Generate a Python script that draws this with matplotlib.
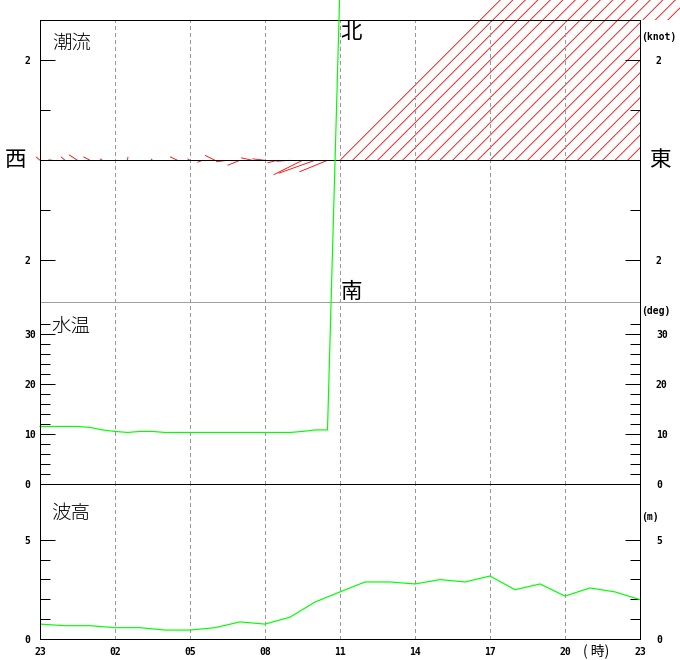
import numpy as np
import matplotlib
matplotlib.use('Agg')
import matplotlib.pyplot as plt
from matplotlib.collections import LineCollection
from matplotlib.path import Path

plt.rcParams['font.family'] = ['Noto Sans CJK JP', 'DejaVu Sans']
plt.rcParams['lines.antialiased'] = False

# time axis: 23時 から 24時間, labels every 3 h
tick_hours = [0, 3, 6, 9, 12, 15, 18, 21, 24]
tick_labels = ['23', '02', '05', '08', '11', '14', '17', '20', '23']

# 潮流 every 30 min: east (u) / north (v) components in knot, 99.9 = 欠測
cur_hours = np.arange(0, 24.5, 0.5)
cur_u = [-0.08, -0.08, -0.08, -0.17, -0.13, -0.05, 0.00, 0.01, 0.00, -0.03,
         0.00, -0.15, -0.05, -0.10, -0.20, -0.23, -0.25, -0.23, -0.25, -0.20,
         -0.27, -0.58, -0.73, -0.56,
         99.9, 99.9, 99.9, 99.9, 99.9, 99.9, 99.9, 99.9, 99.9, 99.9, 99.9, 99.9, 99.9,
         99.9, 99.9, 99.9, 99.9, 99.9, 99.9, 99.9, 99.9, 99.9, 99.9, 99.9, 99.9]
cur_v = [0.07, 0.01, 0.07, 0.11, 0.07, 0.03, 0.01, 0.07, 0.01, 0.03,
         0.01, 0.07, 0.03, -0.04, 0.10, -0.03, -0.10, 0.05, 0.03, -0.05,
         -0.02, -0.29, -0.26, -0.23,
         99.9, 99.9, 99.9, 99.9, 99.9, 99.9, 99.9, 99.9, 99.9, 99.9, 99.9, 99.9, 99.9,
         99.9, 99.9, 99.9, 99.9, 99.9, 99.9, 99.9, 99.9, 99.9, 99.9, 99.9, 99.9]

# 水温 every 30 min (deg), 99.9 = 欠測
tmp_hours = np.arange(0, 12.5, 0.5)
tmp_vals = [11.5, 11.5, 11.5, 11.5, 11.3, 10.8, 10.5, 10.3, 10.5, 10.5,
            10.3, 10.3, 10.3, 10.3, 10.3, 10.3, 10.3, 10.3, 10.3, 10.3,
            10.3, 10.5, 10.8, 10.8, 99.9]

# 波高 hourly (m)
wav_hours = np.arange(0, 25, 1)
wav_vals = [0.75, 0.67, 0.67, 0.57, 0.57, 0.45, 0.45, 0.57, 0.86, 0.75,
            1.10, 1.86, 2.37, 2.87, 2.87, 2.77, 2.99, 2.87, 3.17, 2.48,
            2.77, 2.16, 2.57, 2.37, 1.98]

W, H = 680, 660
LW = 0.72  # one pixel
fig = plt.figure(figsize=(W / 100, H / 100), dpi=100)
fig.patch.set_facecolor('white')

def box(top, bottom):
    return [40 / W, 1 - bottom / H, 600 / W, (bottom - top) / H]

ax_cur = fig.add_axes(box(20.3, 302.3))
ax_tmp = fig.add_axes(box(302.3, 484))
ax_wav = fig.add_axes(box(484, 639))
ax_cur.set_zorder(2)
ax_tmp.set_zorder(3)
ax_wav.set_zorder(1)

mono = dict(family=['DejaVu Sans Mono'], weight='bold', size=7)
grey = '#a0a0a0'

for ax in (ax_cur, ax_tmp, ax_wav):
    ax.set_facecolor('none')
    ax.set_xlim(0, 24)
    ax.set_xticks(tick_hours)
    ax.grid(axis='x', color='#999999', lw=LW, ls=(0, (4, 3)))
    ax.tick_params(axis='x', length=0, labelbottom=False)
    ax.tick_params(axis='y', which='both', direction='in', left=True, right=True,
                   labelleft=True, labelright=True, width=LW, color='black')
    ax.tick_params(axis='y', which='major', length=10.8, pad=11.5)
    ax.tick_params(axis='y', which='minor', length=7.2)
    for s in ax.spines.values():
        s.set_linewidth(LW)

# 潮流 panel
ax_cur.set_ylim(-2.84, 2.8)
ax_cur.set_yticks([-2, 2], ['2', '2'])
ax_cur.set_yticks([-1, 1], minor=True)
ax_cur.spines['bottom'].set_color(grey)
ax_cur.axhline(0, color='black', lw=LW)

bb = ax_cur.get_window_extent()
px_hour = bb.width / 24
px_knot = bb.height / (2.8 + 2.84)
k = px_knot / px_hour
segs = [[(t, 0), (t + k * u, v)] for t, u, v in zip(cur_hours, cur_u, cur_v)]
lc = LineCollection(segs, colors='red', linewidths=0.6, antialiaseds=True, zorder=1.5)
clip = Path([(0, 0), (640 / W, 0), (640 / W, 1 - 20.3 / H), (1, 1 - 20.3 / H),
             (1, 1), (0, 1), (0, 0)], closed=True)
lc.set_clip_path(clip, fig.transFigure)
ax_cur.add_collection(lc)

# 水温 panel
ax_tmp.set_ylim(0, 36.3)
ax_tmp.set_yticks([0, 10, 20, 30])
ax_tmp.set_yticks([2, 4, 6, 8, 12, 14, 16, 18, 22, 24, 26, 28, 32], minor=True)
ax_tmp.spines['top'].set_visible(False)
ax_tmp.plot(tmp_hours, tmp_vals, color='#00ff00', lw=0.85, antialiased=True, clip_on=False)

# 波高 panel
ax_wav.set_ylim(0, 7.8)
ax_wav.set_yticks([0, 5])
ax_wav.set_yticks([1, 2, 3, 4], minor=True)
ax_wav.spines['top'].set_color('black')
ax_wav.plot(wav_hours, wav_vals, color='#00ff00', lw=0.85, antialiased=True)
ax_wav.tick_params(axis='x', labelbottom=True, pad=5.5)
ax_wav.set_xticklabels(tick_labels, fontdict=mono)

for ax in (ax_cur, ax_tmp, ax_wav):
    for t in ax.yaxis.get_major_ticks():
        t.label1.set_ha('left')
        t.label1.set_fontproperties(mono)
        t.label2.set_fontproperties(mono)

# ラベル
def ftext(x, y, s, **kw):
    fig.text(x / W, 1 - y / H, s, ha='center', va='center', **kw)

ftext(351, 32, '北', size=15.5)
ftext(351, 292, '南', size=15.5)
ftext(15, 160, '西', size=15.5)
ftext(660, 160, '東', size=15.5)
ftext(72, 43, '潮流', size=14, weight='light')
ftext(71, 326, '水温', size=14, weight='light')
ftext(71, 513, '波高', size=14, weight='light')
ftext(596, 651, '( 時)', size=10, family=['Noto Sans CJK JP', 'DejaVu Sans'])
fig.text(641 / W, 1 - 37 / H, '(knot)', ha='left', va='center', **mono)
fig.text(641 / W, 1 - 311 / H, '(deg)', ha='left', va='center', **mono)
fig.text(641 / W, 1 - 517 / H, '(m)', ha='left', va='center', **mono)

fig.savefig('out.png', dpi=100, facecolor='white')
